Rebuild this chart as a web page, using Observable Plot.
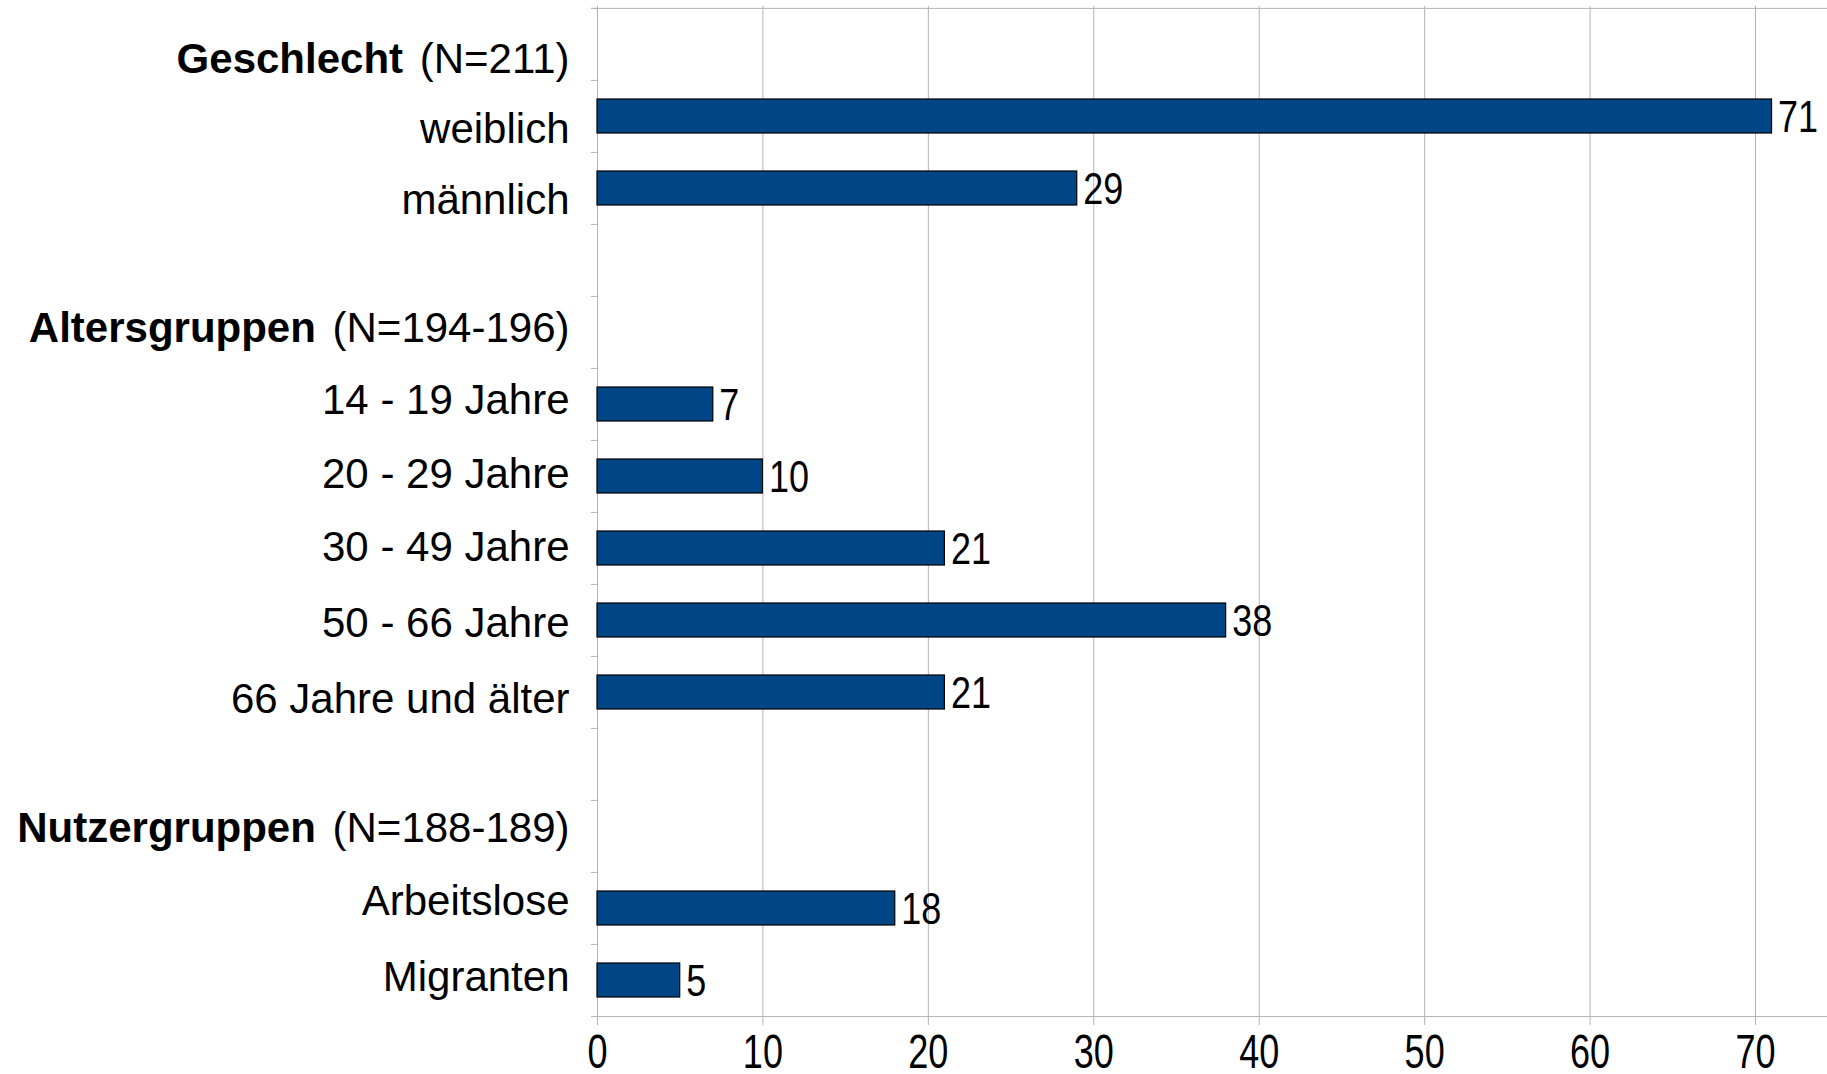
<!DOCTYPE html>
<html>
<head>
<meta charset="utf-8">
<script src="https://cdn.jsdelivr.net/npm/d3@7"></script>
<script src="https://cdn.jsdelivr.net/npm/@observablehq/plot@0.6"></script>
<style>
  html, body { margin: 0; padding: 0; background: #fff; }
  #chart svg { display: block; font-family: "Liberation Sans", Arial, sans-serif; }
</style>
</head>
<body>
<div id="chart"></div>
<script>
// ---- data ----
const groupTitles = ["Geschlecht", "Altersgruppen", "Nutzergruppen"];
const groupN = ["(N=211)", "(N=194-196)", "(N=188-189)"];
const genderLabels = ["weiblich", "männlich"];
const genderValues = [71, 29];
const ageLabels = ["14 - 19 Jahre", "20 - 29 Jahre", "30 - 49 Jahre", "50 - 66 Jahre", "66 Jahre und älter"];
const ageValues = [7, 10, 21, 38, 21];
const userLabels = ["Arbeitslose", "Migranten"];
const userValues = [18, 5];
const xTicks = [0, 10, 20, 30, 40, 50, 60, 70];

// ---- layout / style (label nudges per row, in pixels) ----
const headerDy = [15.5, -4, -7.5];
const itemDy = [[13, 12], [-4, -2, -0.5, 3.5, 7], [-6.5, -3]];

// ---- build rows ----
const groupLabels = [genderLabels, ageLabels, userLabels];
const groupValues = [genderValues, ageValues, userValues];
const rows = [];
groupTitles.forEach((g, i) => {
  rows.push({key: "h" + i, type: "header", bold: g, n: groupN[i], dy: headerDy[i]});
  groupLabels[i].forEach((lab, j) => rows.push({key: lab, type: "item", label: lab, value: groupValues[i][j], dy: itemDy[i][j]}));
  if (i < groupTitles.length - 1) rows.push({key: "s" + i, type: "spacer"});
});
const itemRows = rows.filter(r => r.type === "item");
const headerRows = rows.filter(r => r.type === "header");

const width = 1827, height = 1074;
const marginLeft = 597, marginRight = 0, marginTop = 6, marginBottom = 57;
const step = (height - marginTop - marginBottom) / rows.length;
const xMax = (width - marginLeft - marginRight) / ((1755 - 597) / 70);

const labelFont = 42;
const ctx = document.createElement("canvas").getContext("2d");
function textWidth(s, weight) {
  ctx.font = `${weight || "normal"} ${labelFont}px "Liberation Sans", Arial, sans-serif`;
  return ctx.measureText(s).width;
}
const grey = "#b3b3b3";
const labelDx = -28;

const headerMarks = headerRows.flatMap(h => [
  Plot.text([h], {y: "key", text: "n", frameAnchor: "left", textAnchor: "end", dx: labelDx, dy: h.dy, fontSize: labelFont, fill: "black"}),
  Plot.text([h], {y: "key", text: "bold", frameAnchor: "left", textAnchor: "end",
    dx: labelDx - textWidth(" " + h.n) - 5, dy: h.dy, fontSize: labelFont, fontWeight: "bold", fill: "black"})
]);
const itemLabelMarks = itemRows.map(r =>
  Plot.text([r], {y: "key", text: "label", frameAnchor: "left", textAnchor: "end", dx: labelDx, dy: r.dy, fontSize: labelFont, fill: "black"})
);

const chart = Plot.plot({
  width, height, marginLeft, marginRight, marginTop, marginBottom,
  x: {domain: [0, xMax]},
  y: {domain: rows.map(r => r.key), paddingInner: 0.53, paddingOuter: 0.265, axis: null},
  marks: [
    Plot.gridX(xTicks, {stroke: grey, strokeOpacity: 1, strokeWidth: 1}),
    Plot.ruleX([0], {stroke: grey, strokeWidth: 1}),
    // row boundary ticks on the y axis
    Plot.ruleY(rows, {y: "key", x1: -0.36, x2: 0, dy: -step / 2, stroke: grey}),
    // top and bottom lines
    Plot.ruleY([rows[0]], {y: "key", x1: -0.36, x2: xMax, dy: -step / 2, stroke: grey}),
    Plot.ruleY([rows[rows.length - 1]], {y: "key", x1: -0.36, x2: xMax, dy: step / 2, stroke: grey}),
    Plot.barX(itemRows, {x: "value", y: "key", fill: "#004586", stroke: "#000", strokeWidth: 1.2}),
    Plot.text(itemRows, {x: "value", y: "key", text: d => String(d.value), dx: 6, dy: 1, textAnchor: "start", fontSize: 40, fill: "#010101"}),
    ...itemLabelMarks,
    ...headerMarks,
    Plot.axisX(xTicks, {tickSize: 8, tickPadding: 10, stroke: grey, fill: "black", fontSize: 44, label: null,
      tickFormat: d => String(d)})
  ]
});
document.getElementById("chart").appendChild(chart);

// narrow, tall glyphs as in the reference rendering
function stretch(texts, sx, sy, anchorLeft) {
  texts.forEach(t => {
    const b = t.getBBox();
    const cx = anchorLeft ? b.x : b.x + b.width / 2, cy = b.y + b.height / 2;
    const prev = t.getAttribute("transform") || "";
    t.setAttribute("transform", `${prev} translate(${cx},${cy}) scale(${sx},${sy}) translate(${-cx},${-cy})`);
  });
}
stretch(chart.querySelectorAll('g[aria-label="x-axis tick label"] text'), 0.82, 1.11, false);
stretch(chart.querySelectorAll('g[fill="#010101"] text'), 0.9, 1.1, true);
</script>
</body>
</html>
